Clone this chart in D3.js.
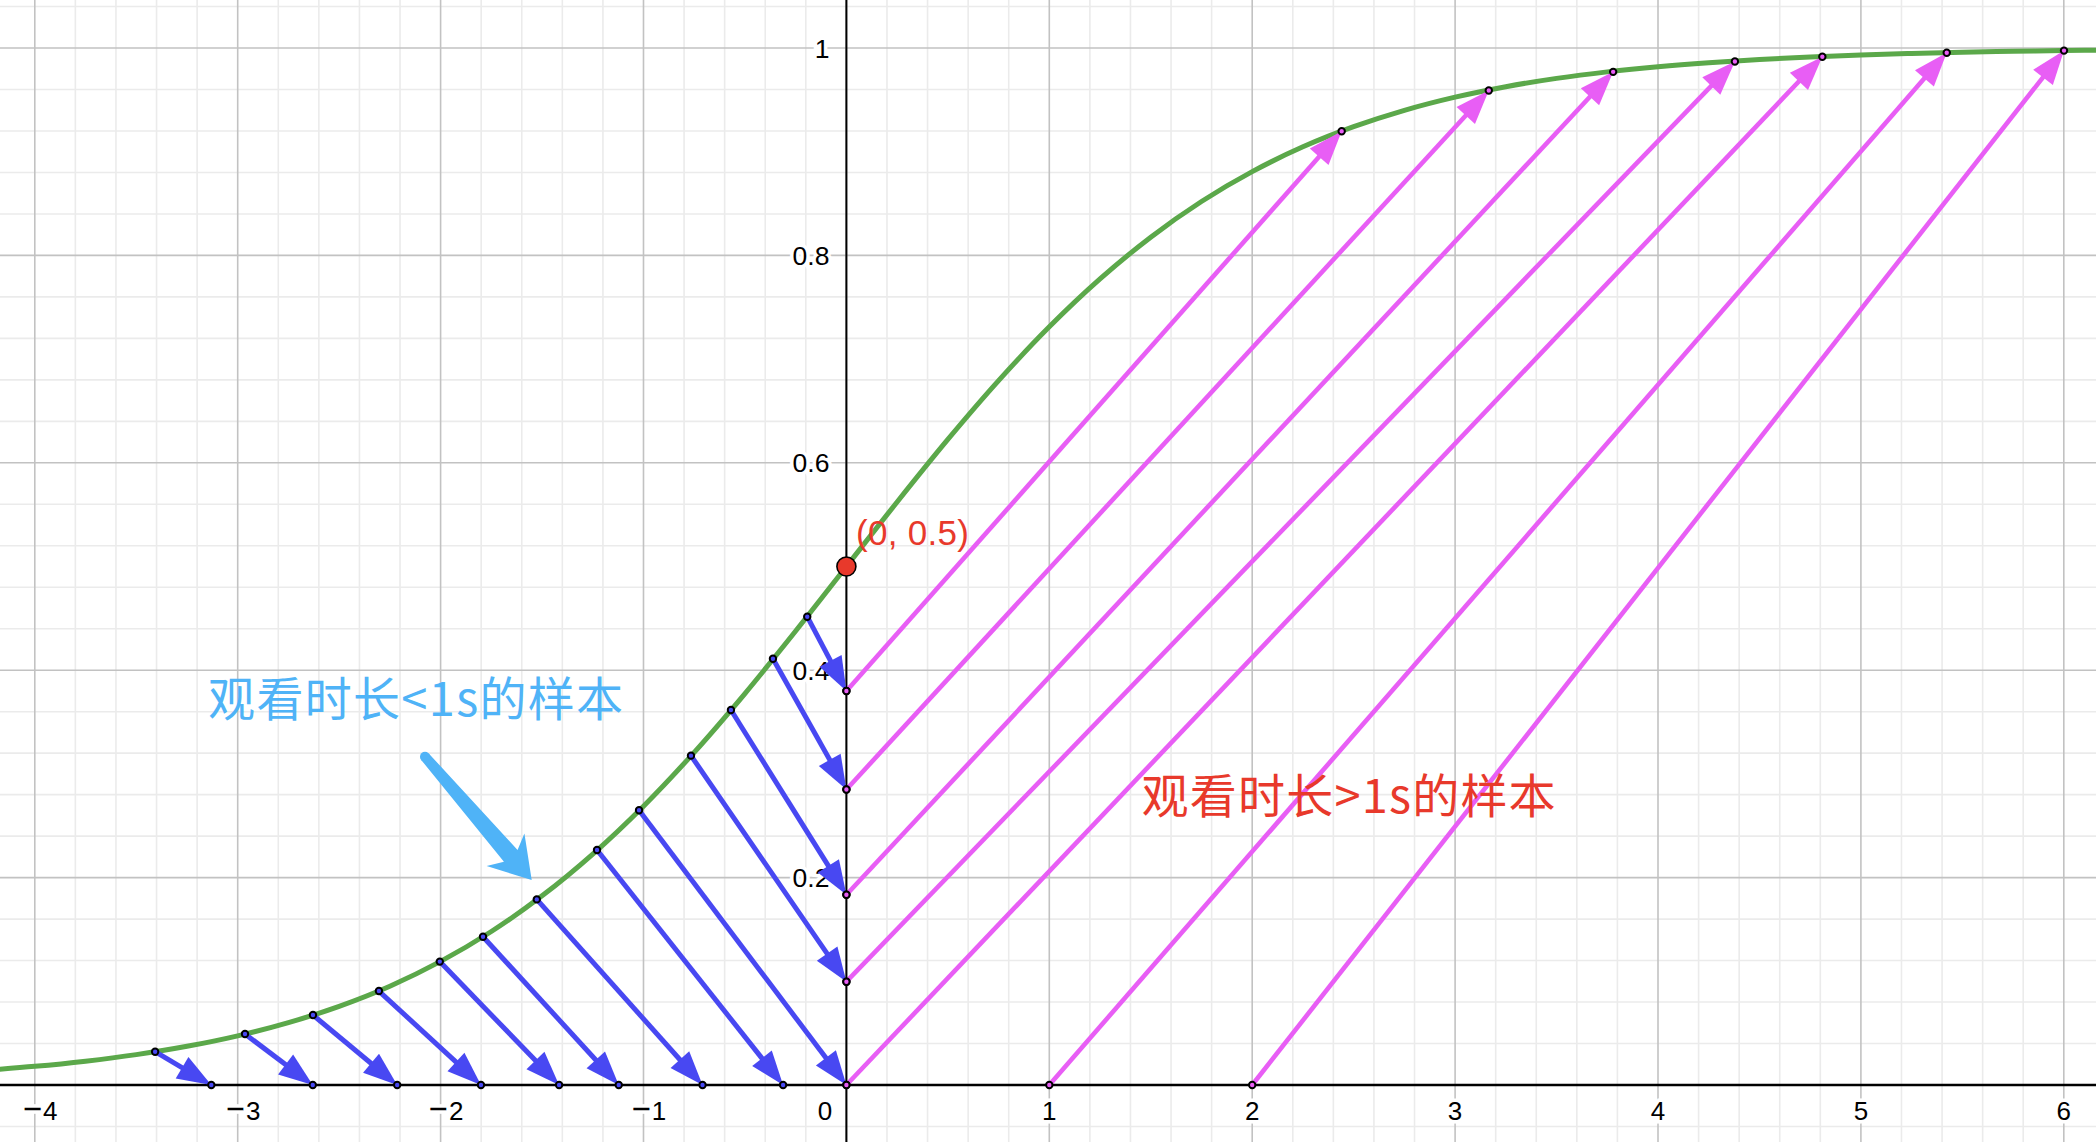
<!DOCTYPE html>
<html>
<head>
<meta charset="utf-8">
<script src="https://cdn.jsdelivr.net/npm/d3@7/dist/d3.min.js"></script>
<style>
  html, body { margin: 0; padding: 0; background: #ffffff; overflow: hidden; }
  svg { display: block; }
</style>
</head>
<body>
<svg id="chart" width="2096" height="1142"></svg>
<script>
// ---------- data ----------
const xTicks = [-4, -3, -2, -1, 0, 1, 2, 3, 4, 5, 6];
const yTicks = [0.2, 0.4, 0.6, 0.8, 1];
const xTickLabels = ["4", "3", "2", "1", "0", "1", "2", "3", "4", "5", "6"];
const yTickLabels = ["0.2", "0.4", "0.6", "0.8", "1"];

// green curve
const curveX = [-4.25, -4, -3.75, -3.5, -3.25, -3, -2.75, -2.5, -2.25, -2, -1.75, -1.5, -1.25, -1, -0.75, -0.5, -0.25,
  0, 0.25, 0.5, 0.75, 1, 1.25, 1.5, 1.75, 2, 2.25, 2.5, 2.75, 3, 3.25, 3.5, 3.75, 4, 4.25, 4.5, 4.75, 5, 5.25, 5.5, 5.75, 6, 6.25];
const curveY = [0.0141, 0.0180, 0.0230, 0.0293, 0.0373, 0.0474, 0.0601, 0.0759, 0.0953, 0.1192, 0.1480, 0.1824, 0.2227, 0.2689, 0.3208, 0.3775, 0.4378,
  0.5, 0.5622, 0.6225, 0.6792, 0.7311, 0.7773, 0.8176, 0.8520, 0.8808, 0.9047, 0.9241, 0.9399, 0.9526, 0.9627, 0.9707, 0.9770, 0.9820, 0.9859, 0.9890, 0.9914, 0.9933, 0.9948, 0.9959, 0.9968, 0.9975, 0.9981];

// blue arrows (samples < 1s): from curve down to the axes
const blueStartX = [-3.407, -2.964, -2.629, -2.304, -2.004, -1.791, -1.526, -1.229, -1.022, -0.766, -0.569, -0.362, -0.193];
const blueStartY = [0.0321, 0.0492, 0.0675, 0.0906, 0.119, 0.143, 0.179, 0.2266, 0.265, 0.3176, 0.3616, 0.411, 0.4516];
const blueEndX = [-3.13, -2.63, -2.214, -1.801, -1.416, -1.122, -0.709, -0.312, 0, 0, 0, 0, 0];
const blueEndY = [0, 0, 0, 0, 0, 0, 0, 0, 0, 0.0996, 0.1835, 0.285, 0.380];

// magenta arrows (samples > 1s): from the axes up to the curve
const pinkStartX = [0, 0, 0, 0, 0, 1, 2];
const pinkStartY = [0.380, 0.285, 0.1835, 0.0996, 0, 0, 0];
const pinkEndX = [2.441, 3.166, 3.779, 4.379, 4.810, 5.423, 6.001];
const pinkEndY = [0.9197, 0.959, 0.977, 0.987, 0.9916, 0.9955, 0.9975];

// special point
const specialPoint = [0, 0.5];
const specialLabel = "(0, 0.5)";

// annotations
const blueNote = "观看时长<1s的样本";
const redNote = "观看时长>1s的样本";
const noteArrow = [[-2.077, 0.3166], [-1.551, 0.1977]];

// ---------- layout ----------
const W = 2096, H = 1142;
const x = d3.scaleLinear().domain([-4.1715, 6.1587]).range([0, W]);
const y = d3.scaleLinear().domain([-0.05497, 1.0463]).range([H, 0]);

const COL_BLUE = "#4848f2";
const COL_PINK = "#e85ef5";
const COL_GREEN = "#5ba84a";
const COL_RED = "#e8392b";
const COL_NOTE_BLUE = "#4fb3f7";

const svg = d3.select("#chart");

// ---------- grid ----------
const minorX = d3.range(-42, 63).map(i => i * 0.2).filter(v => Math.abs(v - Math.round(v)) > 1e-6);
const minorY = d3.range(-2, 27).map(i => i * 0.04).filter(v => Math.abs(v * 5 - Math.round(v * 5)) > 1e-6);
const majorX = d3.range(-4, 7);
const majorY = d3.range(0, 6).map(i => i * 0.2);

const grid = svg.append("g");
grid.selectAll(".mx").data(minorX).enter().append("line")
  .attr("x1", d => x(d)).attr("x2", d => x(d)).attr("y1", 0).attr("y2", H)
  .attr("stroke", "#ebebeb").attr("stroke-width", 1.6);
grid.selectAll(".my").data(minorY).enter().append("line")
  .attr("y1", d => y(d)).attr("y2", d => y(d)).attr("x1", 0).attr("x2", W)
  .attr("stroke", "#ebebeb").attr("stroke-width", 1.6);
grid.selectAll(".Mx").data(majorX).enter().append("line")
  .attr("x1", d => x(d)).attr("x2", d => x(d)).attr("y1", 0).attr("y2", H)
  .attr("stroke", "#c2c2c2").attr("stroke-width", 1.6);
grid.selectAll(".My").data(majorY).enter().append("line")
  .attr("y1", d => y(d)).attr("y2", d => y(d)).attr("x1", 0).attr("x2", W)
  .attr("stroke", "#c2c2c2").attr("stroke-width", 1.6);

// ---------- axes ----------
svg.append("line").attr("x1", 0).attr("x2", W).attr("y1", y(0)).attr("y2", y(0))
  .attr("stroke", "#000").attr("stroke-width", 2.4);
svg.append("line").attr("x1", x(0)).attr("x2", x(0)).attr("y1", 0).attr("y2", H)
  .attr("stroke", "#000").attr("stroke-width", 2);

// tick labels with white halo
const tickFont = "'Liberation Sans', Arial, sans-serif";
const xl = svg.append("g").selectAll("text").data(xTicks).enter().append("text")
  .attr("x", (d) => d < 0 ? x(d) - 12 : (d === 0 ? x(d) - 21.5 : x(d)))
  .attr("y", y(0) + 35)
  .attr("text-anchor", d => d < 0 ? "start" : "middle")
  .attr("font-family", tickFont).attr("font-size", 26).attr("fill", "#000")
  .attr("stroke", "#fff").attr("stroke-width", 7).attr("paint-order", "stroke");
xl.each(function (d, i) {
  const t = d3.select(this);
  if (d < 0) {
    t.append("tspan").attr("font-size", 33).text("−");
    t.append("tspan").attr("font-size", 26).attr("dx", 1).text(xTickLabels[i]);
  } else {
    t.text(xTickLabels[i]);
  }
});
svg.append("g").selectAll("text").data(yTicks).enter().append("text")
  .attr("x", x(0) - 17)
  .attr("y", d => y(d) + 9.5)
  .attr("text-anchor", "end")
  .attr("font-family", tickFont).attr("font-size", 26.5).attr("fill", "#000")
  .attr("stroke", "#fff").attr("stroke-width", 7).attr("paint-order", "stroke")
  .text((d, i) => yTickLabels[i]);

// ---------- curve ----------
const curvePts = curveX.map((v, i) => [v, curveY[i]]);
svg.append("path")
  .attr("d", d3.line().x(d => x(d[0])).y(d => y(d[1])).curve(d3.curveCatmullRom.alpha(0.5))(curvePts))
  .attr("fill", "none").attr("stroke", COL_GREEN).attr("stroke-width", 5)
  .attr("stroke-linecap", "round");

// ---------- arrows ----------
function drawArrows(sx, sy, ex, ey, color, width) {
  const g = svg.append("g");
  const arr = sx.map((v, i) => ({ x1: x(v), y1: y(sy[i]), x2: x(ex[i]), y2: y(ey[i]) }));
  const L = 34, HW = 12.5;
  arr.forEach(a => {
    const dx = a.x2 - a.x1, dy = a.y2 - a.y1;
    const len = Math.hypot(dx, dy);
    const ux = dx / len, uy = dy / len;
    const nx = -uy, ny = ux;
    const bx = a.x2 - ux * L, by = a.y2 - uy * L;
    g.append("line")
      .attr("x1", a.x1).attr("y1", a.y1)
      .attr("x2", a.x2 - ux * L * 0.6).attr("y2", a.y2 - uy * L * 0.6)
      .attr("stroke", color).attr("stroke-width", width);
    g.append("path")
      .attr("d", `M${a.x2},${a.y2}L${bx + nx * HW},${by + ny * HW}L${bx - nx * HW},${by - ny * HW}Z`)
      .attr("fill", color);
  });
}
drawArrows(blueStartX, blueStartY, blueEndX, blueEndY, COL_BLUE, 5);
drawArrows(pinkStartX, pinkStartY, pinkEndX, pinkEndY, COL_PINK, 4.6);

// ---------- points ----------
function drawPoints(px, py, fill) {
  svg.append("g").selectAll("circle").data(px).enter().append("circle")
    .attr("cx", d => x(d)).attr("cy", (d, i) => y(py[i])).attr("r", 3.2)
    .attr("fill", fill).attr("stroke", "#000").attr("stroke-width", 2);
}
drawPoints(blueStartX, blueStartY, COL_BLUE);
drawPoints(blueEndX, blueEndY, COL_BLUE);
drawPoints(pinkStartX, pinkStartY, COL_PINK);
drawPoints(pinkEndX, pinkEndY, COL_PINK);

// special red point
svg.append("circle")
  .attr("cx", x(specialPoint[0])).attr("cy", y(specialPoint[1])).attr("r", 9.5)
  .attr("fill", "#e8392b").attr("stroke", "#000").attr("stroke-width", 1.6);
svg.append("text")
  .attr("x", x(0.047)).attr("y", y(0.5207))
  .attr("font-family", "'Liberation Sans', Arial, sans-serif").attr("font-size", 35)
  .attr("textLength", 113).attr("lengthAdjust", "spacing")
  .attr("fill", COL_RED).text(specialLabel);

// ---------- annotations ----------
const cjkFont = "'Noto Sans CJK SC', 'Noto Sans', sans-serif";
svg.append("text")
  .attr("x", x(-3.146)).attr("y", y(0.3558))
  .attr("font-family", cjkFont).attr("font-size", 47)
  .attr("textLength", 415).attr("lengthAdjust", "spacing")
  .attr("fill", COL_NOTE_BLUE).text(blueNote);
svg.append("text")
  .attr("x", x(1.455)).attr("y", y(0.2623))
  .attr("font-family", cjkFont).attr("font-size", 47)
  .attr("textLength", 414).attr("lengthAdjust", "spacing")
  .attr("fill", COL_RED).text(redNote);

// big light-blue arrow
(function () {
  const sx = x(noteArrow[0][0]), sy = y(noteArrow[0][1]);
  const tx = x(noteArrow[1][0]), ty = y(noteArrow[1][1]);
  const dx = tx - sx, dy = ty - sy, len = Math.hypot(dx, dy);
  const ux = dx / len, uy = dy / len, nx = -uy, ny = ux;
  const p = (a, b) => [tx - ux * a + nx * b, ty - uy * a + ny * b];
  const s = (b) => [sx + nx * b, sy + ny * b];
  const pts = [s(5), p(32, 9), p(40, 25), [tx, ty], p(40, -25), p(32, -9), s(-5)];
  svg.append("path").attr("d", "M" + pts.map(q => q.join(",")).join("L") + "Z")
    .attr("fill", COL_NOTE_BLUE);
  svg.append("circle").attr("cx", sx).attr("cy", sy).attr("r", 5).attr("fill", COL_NOTE_BLUE);
})();
</script>
</body>
</html>
